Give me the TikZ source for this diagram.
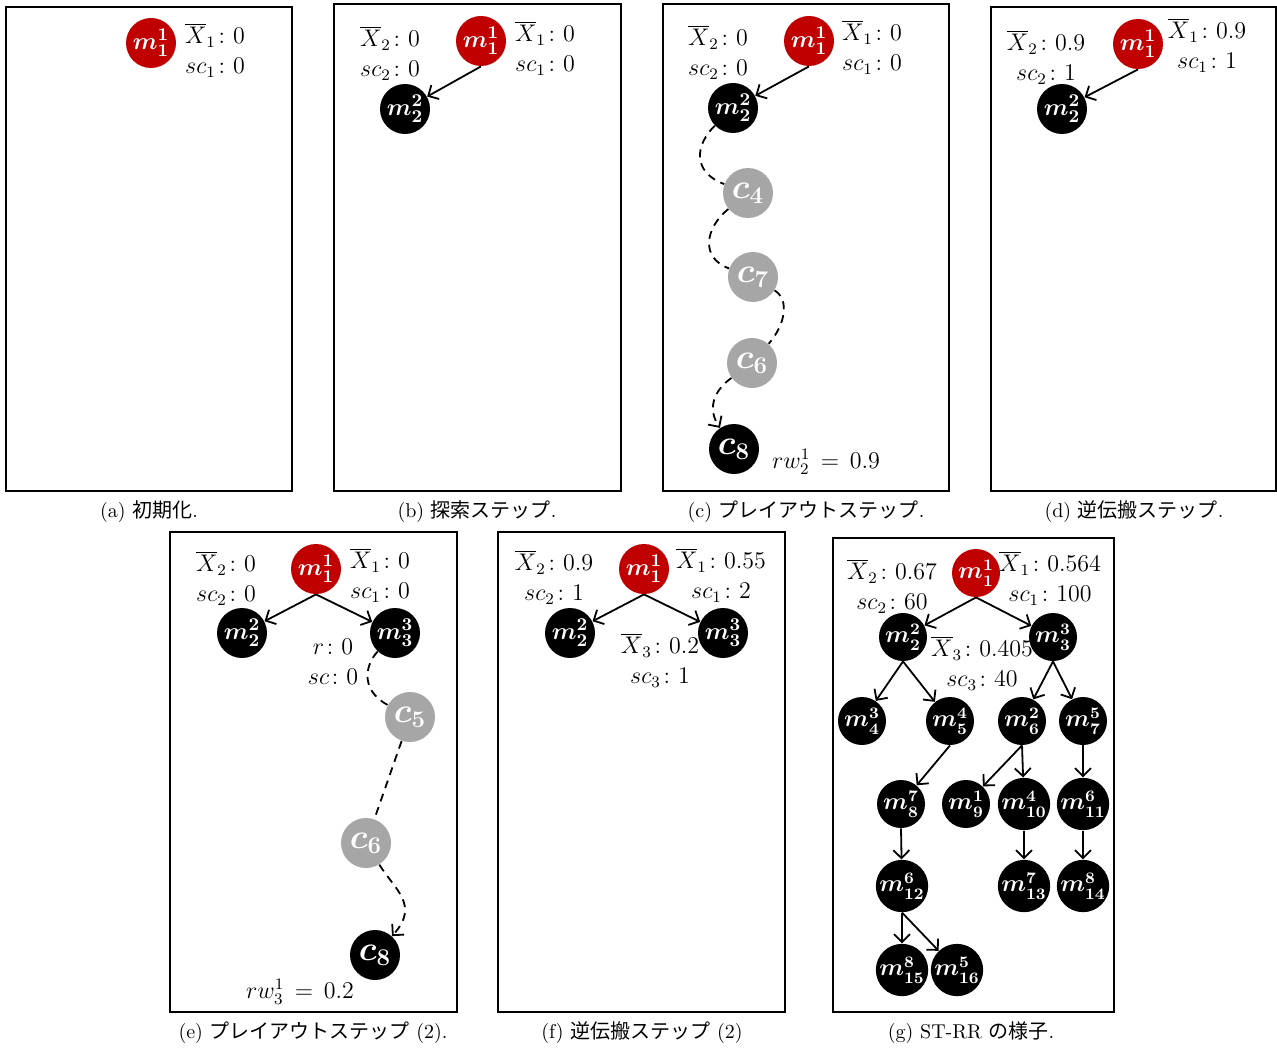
\documentclass[tikz,border=0pt]{standalone}
\usepackage{amsmath,amssymb}
\usepackage{fontspec}
\newfontfamily\jp{Noto Sans CJK JP}
\usetikzlibrary{arrows.meta}
\definecolor{mctsred}{RGB}{192,0,0}
\definecolor{mctsgray}{RGB}{166,166,166}

\begin{document}
\begin{tikzpicture}[x=0.5pt,y=-0.5pt,
    panel/.style={draw,line width=1pt},
    mv/.style={circle,fill=black,text=white,inner sep=0pt,minimum size=25pt,font=\fontsize{13}{15}\selectfont\boldmath},
    root/.style={mv,fill=mctsred},
    leaf/.style={mv,font=\fontsize{18}{20}\selectfont\boldmath},
    sim/.style={leaf,fill=mctsgray},
    gmv/.style={mv,minimum size=24pt,font=\fontsize{12}{14}\selectfont\boldmath},
    stat/.style={align=center,inner sep=0pt,font=\fontsize{12}{15}\selectfont},
    subcap/.style={font=\fontsize{10}{12}\selectfont},
    >={Straight Barb[length=4pt,width=8pt]},
    tree/.style={->,line width=0.9pt},
    rollout/.style={line width=0.9pt,dash pattern=on 4pt off 3pt}
]
\useasboundingbox (0,0) rectangle (1277,1048);

% (a)
\draw[panel] (6,7) rectangle (292,491);
\node[root] (am11) at (151,43) {$m_1^1$};
\node[stat] (as1) at (215,50) {$\overline{X}_1\colon 0$\\$sc_1\colon 0$};
\node[subcap] (capa) at (149,512) {(a) {\jp 初期化}.};

% (b)
\draw[panel] (334,4) rectangle (621,491);
\node[root] (bm11) at (481,41) {$m_1^1$};
\node[mv] (bm22) at (405,109) {$m_2^2$};
\node[stat] (bs2) at (390,53) {$\overline{X}_2\colon 0$\\$sc_2\colon 0$};
\node[stat] (bs1) at (545,48) {$\overline{X}_1\colon 0$\\$sc_1\colon 0$};
\draw[tree] (bm11.south) -- (bm22);
\node[subcap] (capb) at (477,512) {(b) {\jp 探索ステップ}.};

% (c)
\draw[panel] (663,4) rectangle (949,491);
\node[root] (cm11) at (809,41) {$m_1^1$};
\node[mv] (cm22) at (733,108) {$m_2^2$};
\node[stat] (cs2) at (718,52) {$\overline{X}_2\colon 0$\\$sc_2\colon 0$};
\node[stat] (cs1) at (872,47) {$\overline{X}_1\colon 0$\\$sc_1\colon 0$};
\node[sim] (cc4) at (748,193) {$c_4$};
\node[sim] (cc7) at (753,277) {$c_7$};
\node[sim] (cc6) at (752,363) {$c_6$};
\node[leaf] (cc8) at (734,449) {$c_8$};
\node[stat] (crw) at (826,462) {$rw_2^1\,=\,0.9$};
\draw[tree] (cm11.south) -- (cm22);
\draw[rollout] (cm22) .. controls (695,145) and (692,172) .. (cc4);
\draw[rollout] (cc4) .. controls (705,228) and (700,258) .. (cc7);
\draw[rollout] (cc7) .. controls (790,300) and (785,325) .. (cc6);
\draw[rollout,->] (cc6) .. controls (712,392) and (708,410) .. (cc8);
\node[subcap] (capc) at (806,512) {(c) {\jp プレイアウトステップ}.};

% (d)
\draw[panel] (991,7) rectangle (1276,491);
\node[root] (dm11) at (1138,44) {$m_1^1$};
\node[mv] (dm22) at (1062,109) {$m_2^2$};
\node[stat] (ds2) at (1046,57) {$\overline{X}_2\colon 0.9$\\$sc_2\colon 1$};
\node[stat] (ds1) at (1207,45) {$\overline{X}_1\colon 0.9$\\$sc_1\colon 1$};
\draw[tree] (dm11.south) -- (dm22);
\node[subcap] (capd) at (1134,512) {(d) {\jp 逆伝搬ステップ}.};

% (e)
\draw[panel] (170,532) rectangle (457,1012);
\node[root] (em11) at (316,569) {$m_1^1$};
\node[mv] (em22) at (242,633) {$m_2^2$};
\node[mv] (em33) at (395,633) {$m_3^3$};
\node[stat] (es2) at (226,578) {$\overline{X}_2\colon 0$\\$sc_2\colon 0$};
\node[stat] (es1) at (380,575) {$\overline{X}_1\colon 0$\\$sc_1\colon 0$};
\node[stat] (es3) at (333,662) {$r\colon 0$\\$sc\colon 0$};
\node[sim] (ec5) at (410,717) {$c_5$};
\node[sim] (ec6) at (366,843) {$c_6$};
\node[leaf] (ec8) at (375,955) {$c_8$};
\node[stat] (erw) at (300,992) {$rw_3^1\,=\,0.2$};
\draw[tree] (em11.south) -- (em22);
\draw[tree] (em11.south) -- (em33);
\draw[rollout] (em33) .. controls (365,665) and (360,690) .. (ec5);
\draw[rollout] (ec5) -- (ec6);
\draw[rollout,->] (ec6) .. controls (395,890) and (420,905) .. (ec8);
\node[subcap] (cape) at (313,1033) {(e) {\jp プレイアウトステップ} (2).};

% (f)
\draw[panel] (498,532) rectangle (785,1012);
\node[root] (fm11) at (644,569) {$m_1^1$};
\node[mv] (fm22) at (570,633) {$m_2^2$};
\node[mv] (fm33) at (723,633) {$m_3^3$};
\node[stat] (fs2) at (554,577) {$\overline{X}_2\colon 0.9$\\$sc_2\colon 1$};
\node[stat] (fs1) at (721,575) {$\overline{X}_1\colon 0.55$\\$sc_1\colon 2$};
\node[stat] (fs3) at (660,660) {$\overline{X}_3\colon 0.2$\\$sc_3\colon 1$};
\draw[tree] (fm11.south) -- (fm22);
\draw[tree] (fm11.south) -- (fm33);
\node[subcap] (capf) at (642,1033) {(f) {\jp 逆伝搬ステップ} (2)};

% (g)
\draw[panel] (833,538) rectangle (1114,1012);
\node[root,gmv,fill=mctsred] (gm11) at (976,573) {$m_1^1$};
\node[gmv] (gm22) at (903,637) {$m_2^2$};
\node[gmv] (gm33) at (1053,637) {$m_3^3$};
\node[stat] (gs2) at (892,586) {$\overline{X}_2\colon 0.67$\\$sc_2\colon 60$};
\node[stat] (gs1) at (1050,578) {$\overline{X}_1\colon 0.564$\\$sc_1\colon 100$};
\node[stat] (gs3) at (982,663) {$\overline{X}_3\colon 0.405$\\$sc_3\colon 40$};
\node[gmv] (gm34) at (862,721) {$m_4^3$};
\node[gmv] (gm45) at (950,721) {$m_5^4$};
\node[gmv] (gm26) at (1022,721) {$m_6^2$};
\node[gmv] (gm57) at (1083,721) {$m_7^5$};
\node[gmv] (gm78) at (901,804) {$m_8^7$};
\node[gmv] (gm19) at (966,804) {$m_9^1$};
\node[gmv] (gm410) at (1024,804) {$m_{10}^4$};
\node[gmv] (gm611) at (1083,804) {$m_{11}^6$};
\node[gmv] (gm612) at (902,886) {$m_{12}^6$};
\node[gmv] (gm713) at (1024,886) {$m_{13}^7$};
\node[gmv] (gm814) at (1083,886) {$m_{14}^8$};
\node[gmv] (gm815) at (902,970) {$m_{15}^8$};
\node[gmv] (gm516) at (957,970) {$m_{16}^5$};
\draw[tree] (gm11.south) -- (gm22);
\draw[tree] (gm11.south) -- (gm33);
\draw[tree] (gm22.south) -- (gm34);
\draw[tree] (gm22.south) -- (gm45);
\draw[tree] (gm33.south) -- (gm26);
\draw[tree] (gm33.south) -- (gm57);
\draw[tree] (gm45.south) -- (gm78);
\draw[tree] (gm26.south) -- (gm19);
\draw[tree] (gm26.south) -- (gm410);
\draw[tree] (gm57.south) -- (gm611);
\draw[tree] (gm78.south) -- (gm612);
\draw[tree] (gm410.south) -- (gm713);
\draw[tree] (gm611.south) -- (gm814);
\draw[tree] (gm612.south) -- (gm815);
\draw[tree] (gm612.south) -- (gm516);
\node[subcap] (capg) at (971,1033) {(g) ST-RR {\jp の様子}.};
\end{tikzpicture}
\end{document}
